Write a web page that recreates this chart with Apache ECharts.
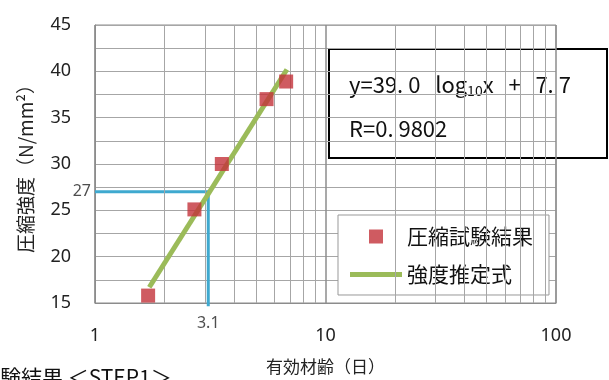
<!DOCTYPE html>
<html>
<head>
<meta charset="utf-8">
<script src="https://cdn.jsdelivr.net/npm/echarts@6/dist/echarts.min.js"></script>
<style>
  html, body { margin: 0; padding: 0; background: #fff; }
  #chart { width: 609px; height: 380px; }
</style>
</head>
<body>
<div id="chart"></div>
<script>
// Compression test results (effective age in days, strength N/mm²)
const testAge = [1.7, 2.7, 3.55, 5.55, 6.75];
const testStrength = [15.8, 25.1, 30.0, 37.0, 38.9];

// Strength estimation line endpoints
const fitAge = [1.72, 6.8];
const fitStrength = [16.7, 40.2];

// Read-off guide: 27 N/mm² reached at 3.1 days
const guideAge = [1, 3.1, 3.1];
const guideStrength = [27, 27, 14.65];

// Minor log grid positions
const minorAges = [2, 3, 4, 5, 6, 7, 8, 9, 20, 30, 40, 50, 60, 70, 80, 90];

const xAxisName = '有効材齢（日）';
const yAxisName = '圧縮強度（N/mm²）';
const seriesNames = ['圧縮試験結果', '強度推定式'];
const equationText = ['y=39. 0   log', '10', 'x   +   7. 7'];
const rText = 'R=0. 9802';
const captionText = '験結果 ＜STEP1＞';

const zip = (a, b) => a.map((v, i) => [v, b[i]]);

const chart = echarts.init(document.getElementById('chart'), null, { renderer: 'canvas' });

const labelFont = '"Noto Sans", "Open Sans", sans-serif';
const jpFont = '"Noto Sans CJK JP", sans-serif';

chart.setOption({
  animation: false,
  backgroundColor: '#fff',
  grid: {
    left: 95, right: 53, top: 25, bottom: 76,
    show: true, borderColor: '#8c8c8c', borderWidth: 1
  },
  xAxis: {
    type: 'log', logBase: 10, min: 1, max: 100,
    name: xAxisName, nameLocation: 'middle', nameGap: 55,
    nameTextStyle: { fontFamily: jpFont, fontSize: 17, color: '#222' },
    axisLine: { show: true, lineStyle: { color: '#8c8c8c' } },
    axisTick: { show: false },
    axisLabel: { fontFamily: labelFont, fontSize: 18, color: '#222', margin: 24 },
    splitLine: { show: true, lineStyle: { color: '#8c8c8c', width: 1.5 } }
  },
  yAxis: {
    type: 'value', min: 15, max: 45, interval: 5,
    name: yAxisName, nameLocation: 'middle', nameGap: 60,
    nameTextStyle: { fontFamily: jpFont, fontSize: 19, color: '#222' },
    axisLine: { show: true, lineStyle: { color: '#8c8c8c' } },
    axisTick: { show: false },
    axisLabel: { fontFamily: labelFont, fontSize: 18, color: '#222', margin: 24 },
    splitLine: { show: true, lineStyle: { color: '#a6a6a6', width: 1 } },
    minorTick: { show: false, splitNumber: 2 },
    minorSplitLine: { show: true, lineStyle: { color: '#a6a6a6', width: 1 } }
  },
  legend: {
    orient: 'vertical',
    left: 338, top: 215,
    data: [
      { name: seriesNames[0], icon: 'path://M0,0h10v10h-10z' },
      { name: seriesNames[1], icon: 'path://M0,0h52v5h-52z' }
    ],
    itemWidth: 52, itemHeight: 14, itemGap: 17,
    symbolKeepAspect: true,
    padding: [11, 16, 10, 12],
    backgroundColor: '#fff',
    borderColor: '#999', borderWidth: 1,
    textStyle: { fontFamily: jpFont, fontSize: 21, color: '#111' }
  },
  series: [
    {
      // minor vertical grid lines on the log axis
      type: 'line', data: [], silent: true, z: 1,
      markLine: {
        silent: true, symbol: 'none', animation: false,
        label: { show: false },
        lineStyle: { color: '#a6a6a6', width: 1, type: 'solid' },
        data: minorAges.map(v => ({ xAxis: v }))
      }
    },
    {
      // guide lines for 27 N/mm² at 3.1 days
      type: 'line', data: zip(guideAge, guideStrength), z: 3,
      clip: false, symbol: 'none', silent: true,
      lineStyle: { color: '#3fa9cf', width: 3 }
    },
    {
      // guide labels
      type: 'scatter', silent: true, z: 4, symbolSize: 0,
      data: [
        { value: [guideAge[0], guideStrength[0]], label: { show: true, position: 'left', distance: 4, formatter: p => String(p.value[1]) } },
        { value: [guideAge[2], 15], label: { show: true, position: 'bottom', distance: 12, formatter: p => String(p.value[0]) } }
      ],
      label: { fontFamily: labelFont, fontSize: 16, color: '#222' }
    },
    {
      name: seriesNames[1],
      type: 'line', data: zip(fitAge, fitStrength), z: 5,
      symbol: 'none',
      lineStyle: { color: '#9bbb59', width: 5 },
      itemStyle: { color: '#9bbb59' }
    },
    {
      name: seriesNames[0],
      type: 'scatter', data: zip(testAge, testStrength), z: 6,
      symbol: 'rect', symbolSize: 14, clip: false,
      itemStyle: { color: '#c3323a' }
    }
  ],
  graphic: [
    {
      type: 'group', left: 328, top: 48, z: 100,
      children: [
        { type: 'rect', shape: { x: 0, y: 0, width: 278, height: 109 },
          style: { fill: '#fff', stroke: '#000', lineWidth: 2 } },
        { type: 'text', x: 20, y: 36,
          style: {
            text: '{a|' + equationText[0] + '}{s|' + equationText[1] + '}{a|' + equationText[2] + '}',
            verticalAlign: 'middle',
            rich: {
              a: { fontFamily: jpFont, fontSize: 22, fill: '#111' },
              s: { fontFamily: jpFont, fontSize: 14, fill: '#111', padding: [12, 0, 0, 0] }
            }
          } },
        { type: 'text', x: 20, y: 80,
          style: { text: rText, fontFamily: jpFont, fontSize: 22, fill: '#111', verticalAlign: 'middle' } }
      ]
    },
    {
      type: 'text', left: 0, top: 367, z: 100,
      style: { text: captionText, fontFamily: jpFont, fontSize: 21, fill: '#111' }
    }
  ]
});
</script>
</body>
</html>
